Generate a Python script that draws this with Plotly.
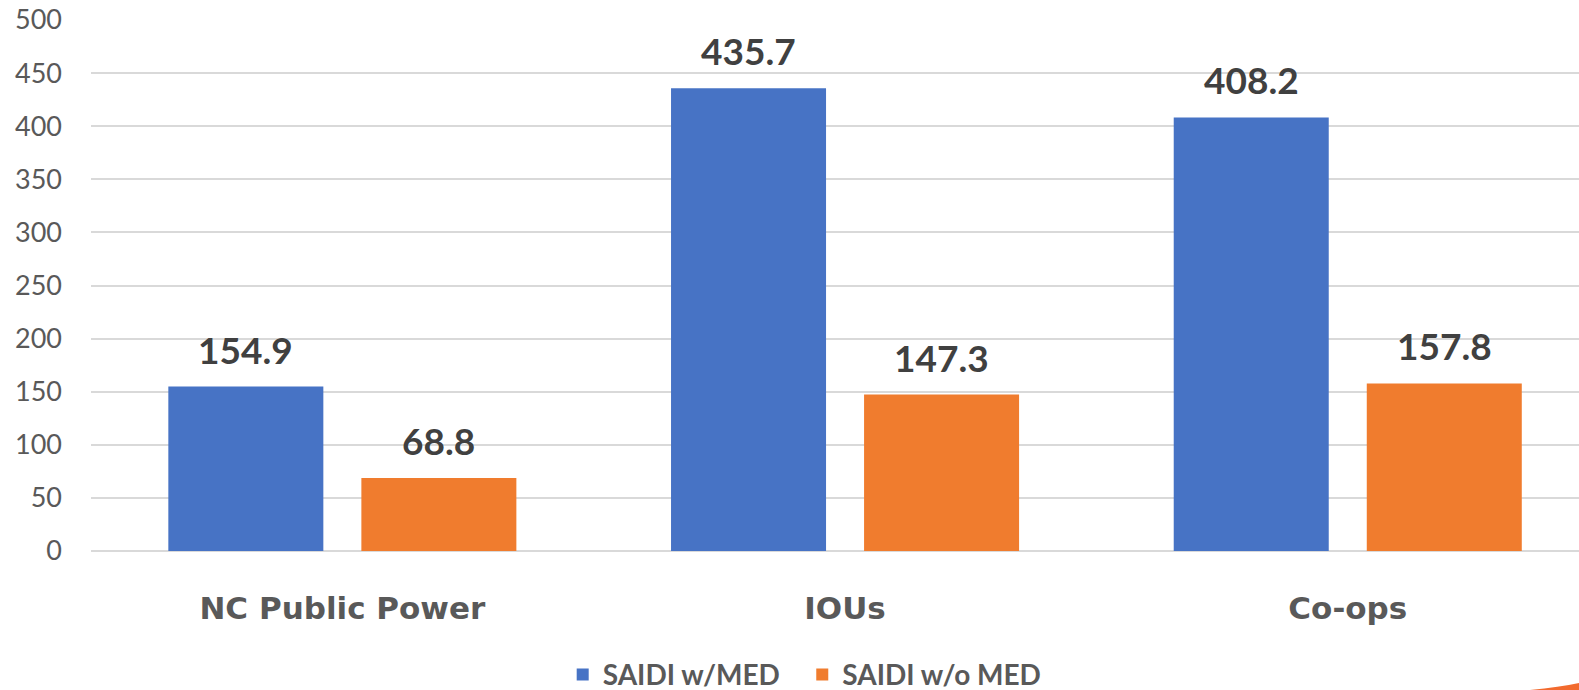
import plotly.graph_objects as go

# Reliability by utility type (minutes)
categories = ["NC Public Power", "IOUs", "Co-ops"]
saidi_with_med = [154.9, 435.7, 408.2]
saidi_without_med = [68.8, 147.3, 157.8]
series_names = ["SAIDI w/MED", "SAIDI w/o MED"]
y_ticks = [0, 50, 100, 150, 200, 250, 300, 350, 400, 450, 500]

W, H = 1579, 690
M_L, M_R, M_T, M_B = 91, 0, 20, 139
BARGAP = 0.232
BARGROUPGAP = 0.197
X_RANGE = [-0.5, 2.46]

FONT = "Lato, 'Open Sans', sans-serif"
CAT_FONT = "'DejaVu Sans', Lato, sans-serif"
BLUE = "#4773c5"
ORANGE = "#f07c2e"
GREY = "#595959"
DARK = "#404040"

fig = go.Figure()
fig.add_trace(go.Bar(x=categories, y=saidi_with_med, name=series_names[0], legend="legend",
                     marker=dict(color=BLUE, line=dict(width=0))))
fig.add_trace(go.Bar(x=categories, y=saidi_without_med, name=series_names[1], legend="legend2",
                     marker=dict(color=ORANGE, line=dict(width=0))))

# value labels above each bar, offset to the centre of each bar slot
plot_w = W - M_L - M_R
cat_px = plot_w / (X_RANGE[1] - X_RANGE[0])
slot_px = cat_px * (1 - BARGAP) / 2
for vals, sign in ((saidi_with_med, -1), (saidi_without_med, 1)):
    for cat, v in zip(categories, vals):
        fig.add_annotation(x=cat, y=v, xref="x", yref="y", text=f"{v:.1f}",
                           showarrow=False, xanchor="center", yanchor="bottom",
                           xshift=sign * slot_px / 2, yshift=13,
                           font=dict(family=FONT, size=37, color=DARK, weight="bold"))

# small corner accent
def px(xp, yp):
    return (xp - M_L) / plot_w, (H - M_B - yp) / (H - M_T - M_B)

p1, pc, p2, p3 = px(1530, 690), px(1560, 687), px(1579, 683), px(1579, 690)
fig.add_shape(type="path", xref="paper", yref="paper", layer="above",
              path=f"M {p1[0]} {p1[1]} Q {pc[0]} {pc[1]} {p2[0]} {p2[1]} L {p3[0]} {p3[1]} Z",
              fillcolor="#f26a2e", line=dict(width=0))

legend_style = dict(orientation="h", y=-0.186, yanchor="top", xanchor="left",
                    font=dict(family=FONT, size=28, color=GREY, weight="bold"),
                    itemwidth=30, bgcolor="rgba(0,0,0,0)")

fig.update_layout(
    width=W, height=H,
    margin=dict(l=M_L, r=M_R, t=M_T, b=M_B, autoexpand=False),
    paper_bgcolor="white", plot_bgcolor="white",
    barmode="group", bargap=BARGAP, bargroupgap=BARGROUPGAP,
    font=dict(family=FONT, color=GREY),
    showlegend=True,
    legend=dict(x=0.317, **legend_style),
    legend2=dict(x=0.478, **legend_style),
    xaxis=dict(range=X_RANGE, showgrid=False, showline=False, zeroline=False,
               ticks="", tickfont=dict(family=CAT_FONT, size=31, color=GREY, weight="bold"),
               ticklabelstandoff=36),
    yaxis=dict(range=[0, 500], tickvals=y_ticks, showgrid=True, gridcolor="#d9d9d9",
               gridwidth=2, zeroline=True, zerolinecolor="#d9d9d9", zerolinewidth=2,
               showline=False, ticks="", tickfont=dict(family=FONT, size=27, color=GREY),
               ticklabelstandoff=28),
)

fig.write_html("out.html")
